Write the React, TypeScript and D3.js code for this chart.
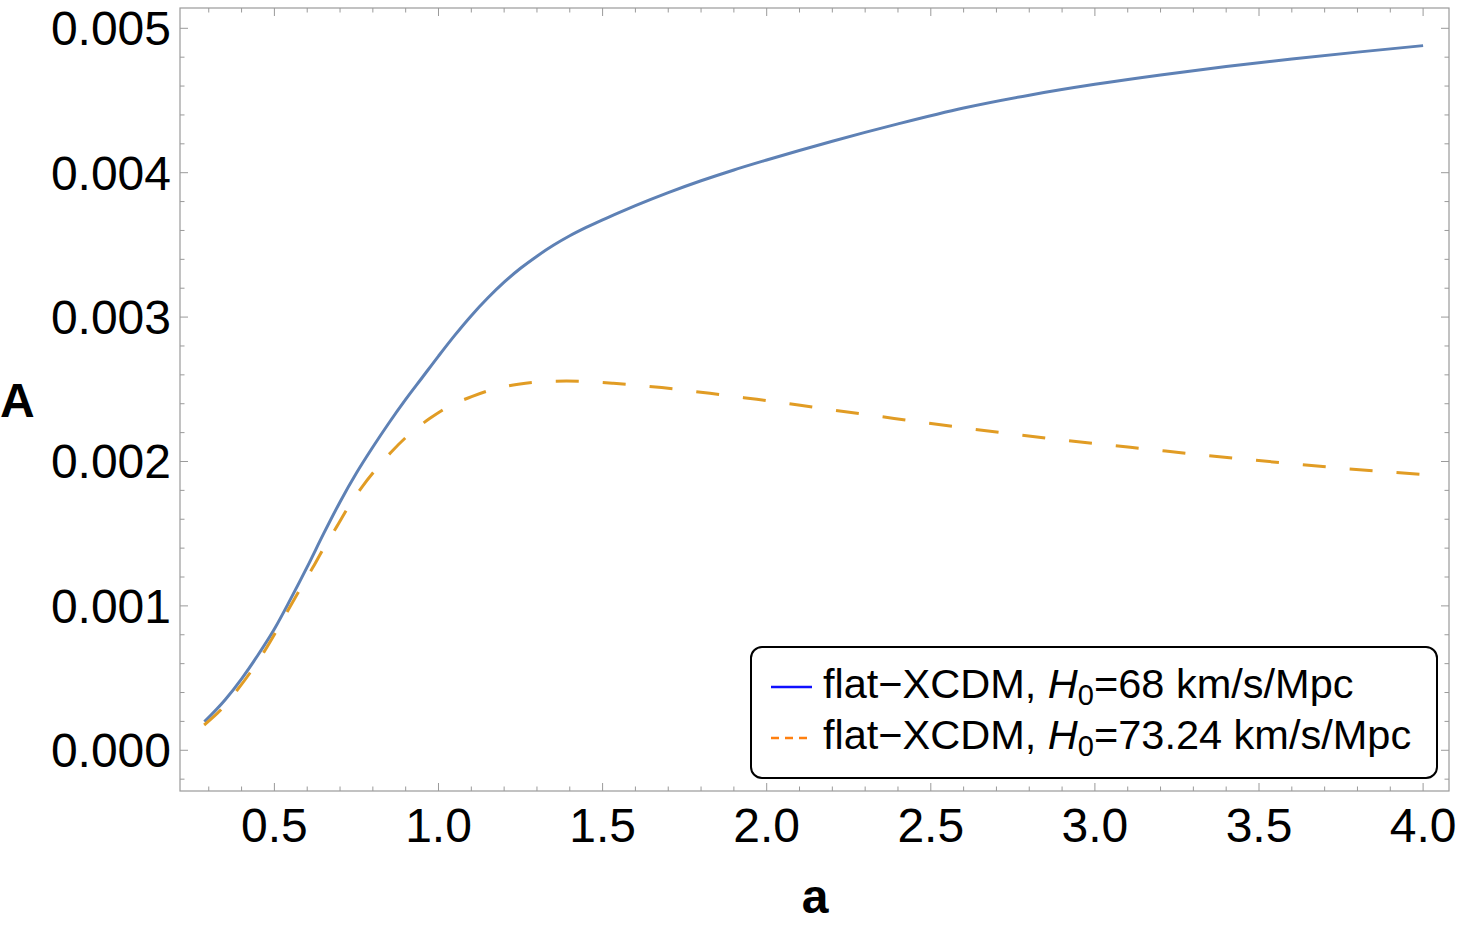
import React from "react";
import * as d3 from "d3";

// Scale factor a and amplitude A for the two flat-XCDM runs
const aSolid = [0.287, 0.35, 0.4, 0.45, 0.5, 0.55, 0.6, 0.65, 0.7, 0.75, 0.8, 0.85, 0.9, 0.95, 1.0, 1.05, 1.1, 1.15, 1.2, 1.25, 1.3, 1.35, 1.4, 1.45, 1.5, 1.55, 1.6, 1.7, 1.8, 1.9, 2.0, 2.2, 2.4, 2.6, 2.8, 3.0, 3.2, 3.4, 3.6, 3.8, 4.0];
const ASolid = [0.000198, 0.00035, 0.000495, 0.00066, 0.00084, 0.00105, 0.00127, 0.0015, 0.00172, 0.00192, 0.0021, 0.00227, 0.00243, 0.00258, 0.00273, 0.002875, 0.00301, 0.003132, 0.003242, 0.003338, 0.003422, 0.003497, 0.003563, 0.003621, 0.003674, 0.003724, 0.003772, 0.003862, 0.003944, 0.004019, 0.004088, 0.004218, 0.004338, 0.004448, 0.004537, 0.004612, 0.004677, 0.004735, 0.004787, 0.004835, 0.00488];

const aDashed = [0.286, 0.339, 0.385, 0.426, 0.468, 0.505, 0.542, 0.578, 0.617, 0.649, 0.69, 0.725, 0.769, 0.812, 0.862, 0.912, 0.974, 1.03, 1.101, 1.167, 1.243, 1.314, 1.39, 1.46, 1.533, 1.604, 1.68, 1.751, 1.827, 1.898, 1.97, 2.04, 2.151, 2.296, 2.438, 2.583, 2.729, 2.871, 3.016, 3.162, 3.307, 3.452, 3.597, 3.743, 3.888, 4.0];
const ADashed = [0.000175, 0.000285, 0.000412, 0.000537, 0.00068, 0.000822, 0.000972, 0.001115, 0.001265, 0.001395, 0.001549, 0.001683, 0.00183, 0.001953, 0.00208, 0.00219, 0.002299, 0.00238, 0.002449, 0.0025, 0.002535, 0.002553, 0.002557, 0.002553, 0.002542, 0.002528, 0.002512, 0.002493, 0.002472, 0.002451, 0.002431, 0.002409, 0.002373, 0.002327, 0.002283, 0.002238, 0.002196, 0.002157, 0.00212, 0.002085, 0.00205, 0.002017, 0.001985, 0.001955, 0.001929, 0.00191];

const xTickLabels = [0.5, 1.0, 1.5, 2.0, 2.5, 3.0, 3.5, 4.0];
const yTickLabels = [0.0, 0.001, 0.002, 0.003, 0.004, 0.005];

const legendLabels = ["68", "73.24"];

const W = 1459;
const H = 928;
const frame = { left: 180, right: 1449, top: 8, bottom: 791 };

const blue = "#5E81B5";
const orange = "#E19C24";
const frameColor = "#9a9a9a";
const font = "'Liberation Sans', Arial, Helvetica, sans-serif";

export default function App() {
  const x = d3.scaleLinear().domain([0.2124, 4.0789]).range([frame.left, frame.right]);
  const y = d3.scaleLinear().domain([-0.000282, 0.0051406]).range([frame.bottom, frame.top]);

  const line = d3
    .line<[number, number]>()
    .x((d) => x(d[0]))
    .y((d) => y(d[1]))
    .curve(d3.curveMonotoneX);

  const solidPts = aSolid.map((a, i) => [a, ASolid[i]] as [number, number]);
  const dashedPts = aDashed.map((a, i) => [a, ADashed[i]] as [number, number]);

  const xMinor = d3.range(3, 41).map((v) => v / 10).filter((v) => Math.abs(v * 2 - Math.round(v * 2)) > 1e-6);
  const yMinor = d3.range(-1, 26).map((v) => v * 0.0002).filter((v) => Math.abs(v * 1000 - Math.round(v * 1000)) > 1e-6);

  const majorLen = 8;
  const minorLen = 4.5;

  const tickLines: React.ReactNode[] = [];
  xTickLabels.forEach((v, i) => {
    const px = x(v);
    tickLines.push(<line key={`xb${i}`} x1={px} x2={px} y1={frame.bottom} y2={frame.bottom - majorLen} />);
    tickLines.push(<line key={`xt${i}`} x1={px} x2={px} y1={frame.top} y2={frame.top + majorLen} />);
  });
  xMinor.forEach((v, i) => {
    const px = x(v);
    tickLines.push(<line key={`xbm${i}`} x1={px} x2={px} y1={frame.bottom} y2={frame.bottom - minorLen} />);
    tickLines.push(<line key={`xtm${i}`} x1={px} x2={px} y1={frame.top} y2={frame.top + minorLen} />);
  });
  yTickLabels.forEach((v, i) => {
    const py = y(v);
    tickLines.push(<line key={`yl${i}`} x1={frame.left} x2={frame.left + majorLen} y1={py} y2={py} />);
    tickLines.push(<line key={`yr${i}`} x1={frame.right} x2={frame.right - majorLen} y1={py} y2={py} />);
  });
  yMinor.forEach((v, i) => {
    const py = y(v);
    tickLines.push(<line key={`ylm${i}`} x1={frame.left} x2={frame.left + minorLen} y1={py} y2={py} />);
    tickLines.push(<line key={`yrm${i}`} x1={frame.right} x2={frame.right - minorLen} y1={py} y2={py} />);
  });

  const legend = { x: 751, y: 647, w: 686, h: 131 };
  const legendFont = 41.5;
  const rowBaselines = [698, 749];

  return (
    <svg
      width={W}
      height={H}
      viewBox={`0 0 ${W} ${H}`}
      style={{ position: "absolute", left: 0, top: 0, display: "block", background: "#fff" }}
      fontFamily={font}
    >
      <defs>
        <clipPath id="plotArea">
          <rect x={frame.left} y={frame.top} width={frame.right - frame.left} height={frame.bottom - frame.top} />
        </clipPath>
      </defs>

      <g clipPath="url(#plotArea)" fill="none" strokeLinecap="butt" strokeLinejoin="round">
        <path d={line(solidPts) || ""} stroke={blue} strokeWidth={3} />
        <path d={line(dashedPts) || ""} stroke={orange} strokeWidth={3} strokeDasharray="23 24" />
      </g>

      <rect
        x={frame.left}
        y={frame.top}
        width={frame.right - frame.left}
        height={frame.bottom - frame.top}
        fill="none"
        stroke={frameColor}
        strokeWidth={1.2}
      />
      <g stroke={frameColor} strokeWidth={1}>
        {tickLines}
      </g>

      <g fontSize={48} fill="#000">
        {xTickLabels.map((v, i) => (
          <text key={`xl${i}`} x={x(v)} y={842} textAnchor="middle">
            {d3.format(".1f")(v)}
          </text>
        ))}
        {yTickLabels.map((v, i) => (
          <text key={`yl${i}`} x={171} y={y(v) + 17} textAnchor="end">
            {d3.format(".3f")(v)}
          </text>
        ))}
      </g>

      <text x={0} y={417} fontSize={48} fontWeight="bold">A</text>
      <text x={815} y={913} fontSize={48} fontWeight="bold" textAnchor="middle">a</text>

      <g>
        <rect
          x={legend.x}
          y={legend.y}
          width={legend.w}
          height={legend.h}
          rx={11}
          ry={11}
          fill="#fff"
          stroke="#000"
          strokeWidth={2}
        />
        {legendLabels.map((h0, i) => {
          const base = rowBaselines[i];
          const ly = base - 11;
          return (
            <g key={`lg${i}`}>
              <line
                x1={771}
                x2={812}
                y1={ly}
                y2={ly}
                stroke={i === 0 ? "#1010ff" : "#ff8010"}
                strokeWidth={2.5}
                strokeDasharray={i === 0 ? undefined : "8 6"}
              />
              <text x={823} y={base} fontSize={legendFont} fill="#000">
                {"flat\u2212XCDM, "}
                <tspan fontStyle="italic">H</tspan>
                <tspan fontSize={legendFont * 0.7} dy={7}>0</tspan>
                <tspan dy={-7}>{`=${h0} km/s/Mpc`}</tspan>
              </text>
            </g>
          );
        })}
      </g>
    </svg>
  );
}
